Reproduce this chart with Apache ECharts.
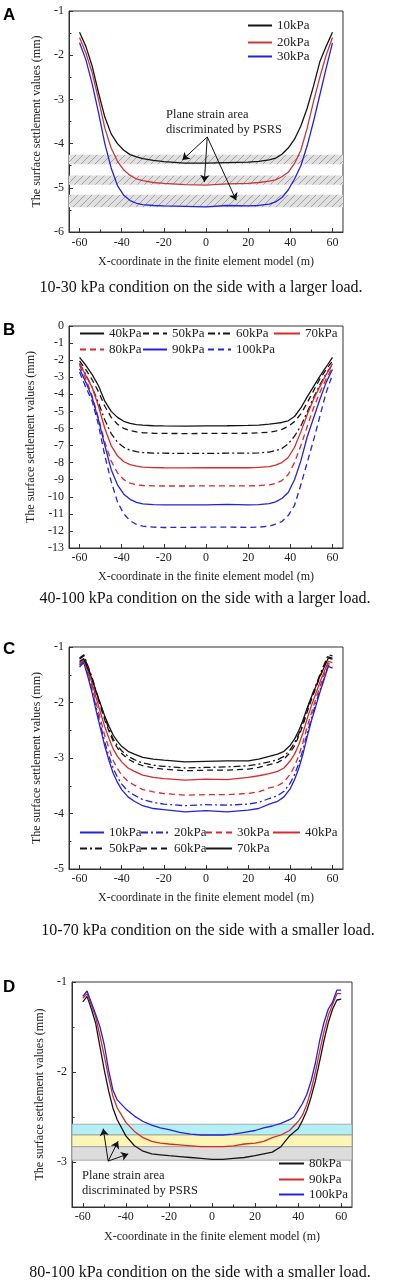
<!DOCTYPE html>
<html><head><meta charset="utf-8">
<script src="https://cdn.jsdelivr.net/npm/echarts@6/dist/echarts.min.js"></script>
<style>html,body{margin:0;padding:0;background:#fff;width:394px;height:1280px;overflow:hidden}
.p{position:absolute;left:0;width:394px}</style></head><body>
<div id="pa" class="p" style="top:0;height:310px"></div>
<div id="pb" class="p" style="top:310px;height:330px"></div>
<div id="pc" class="p" style="top:640px;height:320px"></div>
<div id="pd" class="p" style="top:960px;height:320px"></div>
<script>
// ---------- tick labels ----------
const xTicks = [-60, -40, -20, 0, 20, 40, 60];
const xMinorTicks = [-50, -30, -10, 10, 30, 50];
const yTicksA = [-6, -5, -4, -3, -2, -1];
const yMinorA = [-5.5, -4.5, -3.5, -2.5, -1.5];
const yTicksB = [-13, -12, -11, -10, -9, -8, -7, -6, -5, -4, -3, -2, -1, 0];
const yTicksC = [-5, -4, -3, -2, -1];
const yMinorC = [-4.5, -3.5, -2.5, -1.5];
const yTicksD = [-3, -2, -1];
const yMinorD = [-2.5, -1.5];

// ---------- panel A ----------
const xA = [-60,-57,-54,-51,-48,-45,-42,-39,-36,-33,-30,-25,-20,-10,0,10,20,25,30,33,36,39,42,45,48,51,54,57,60];
const a10 = [-1.48,-1.8,-2.25,-2.85,-3.4,-3.78,-4.0,-4.15,-4.25,-4.3,-4.34,-4.38,-4.41,-4.44,-4.44,-4.43,-4.42,-4.4,-4.37,-4.33,-4.24,-4.1,-3.9,-3.6,-3.2,-2.7,-2.15,-1.8,-1.48];
const a20 = [-1.6,-1.95,-2.4,-3.0,-3.65,-4.1,-4.4,-4.6,-4.72,-4.8,-4.84,-4.88,-4.9,-4.93,-4.94,-4.91,-4.9,-4.88,-4.85,-4.82,-4.75,-4.65,-4.45,-4.15,-3.65,-3.05,-2.5,-2.0,-1.6];
const a30 = [-1.72,-2.1,-2.65,-3.3,-4.0,-4.55,-4.95,-5.17,-5.29,-5.35,-5.38,-5.4,-5.41,-5.42,-5.43,-5.4,-5.41,-5.4,-5.37,-5.32,-5.22,-5.05,-4.8,-4.5,-4.05,-3.5,-2.9,-2.3,-1.72];
const bandsA = [[-4.25, -4.47], [-4.72, -4.93], [-5.16, -5.44]];
const arrowStartA = [0.6, -3.85];
const arrowEndsA = [[-11.2, -4.37], [-0.8, -4.87], [14.3, -5.28]];

// ---------- panel B ----------
const xB = [-60,-57,-54,-51,-48,-45,-42,-39,-36,-33,-30,-25,-20,-10,0,10,20,25,30,33,36,39,42,45,48,51,54,57,60];
const b40 = [-1.84,-2.3,-2.85,-3.5,-4.4,-5.0,-5.35,-5.58,-5.7,-5.77,-5.81,-5.84,-5.85,-5.86,-5.85,-5.84,-5.82,-5.8,-5.75,-5.7,-5.65,-5.55,-5.3,-4.8,-4.15,-3.55,-2.95,-2.4,-1.84];
const b50 = [-2.05,-2.55,-3.15,-3.85,-4.7,-5.35,-5.75,-6.0,-6.13,-6.2,-6.25,-6.28,-6.29,-6.3,-6.29,-6.29,-6.28,-6.26,-6.22,-6.15,-6.05,-5.88,-5.6,-5.15,-4.5,-3.8,-3.1,-2.55,-2.05];
const b60 = [-2.2,-2.85,-3.6,-4.5,-5.5,-6.3,-6.8,-7.1,-7.27,-7.36,-7.41,-7.44,-7.45,-7.46,-7.46,-7.45,-7.45,-7.43,-7.38,-7.3,-7.17,-6.9,-6.45,-5.85,-5.05,-4.2,-3.45,-2.8,-2.25];
const b70 = [-2.2,-2.9,-3.6,-4.7,-6.0,-7.0,-7.6,-7.95,-8.12,-8.2,-8.26,-8.29,-8.3,-8.31,-8.3,-8.3,-8.3,-8.28,-8.23,-8.15,-8.0,-7.7,-7.1,-6.2,-5.2,-4.3,-3.55,-2.85,-2.2];
const b80 = [-2.3,-3.1,-4.1,-5.4,-6.8,-7.9,-8.6,-9.0,-9.2,-9.3,-9.34,-9.36,-9.37,-9.37,-9.36,-9.36,-9.36,-9.35,-9.3,-9.22,-9.05,-8.7,-8.0,-7.0,-5.9,-4.8,-3.9,-3.1,-2.4];
const b90 = [-2.5,-3.3,-4.2,-5.5,-7.0,-8.4,-9.3,-9.85,-10.15,-10.33,-10.42,-10.46,-10.48,-10.48,-10.47,-10.45,-10.47,-10.46,-10.4,-10.3,-10.1,-9.75,-9.0,-7.9,-6.5,-5.4,-4.3,-3.3,-2.55];
const b100 = [-2.7,-3.6,-4.4,-5.8,-7.6,-9.1,-10.3,-11.0,-11.4,-11.62,-11.72,-11.78,-11.8,-11.79,-11.78,-11.78,-11.79,-11.78,-11.72,-11.6,-11.45,-11.1,-10.5,-9.3,-8.0,-6.7,-5.3,-3.9,-2.85];

// ---------- panel C ----------
const xC = [-60,-58,-56,-54,-52,-50,-48,-46,-44,-42,-40,-37,-34,-30,-25,-20,-10,0,10,20,25,30,34,37,40,42,44,46,48,50,52,54,56,58,60];
const c10 = [-1.36,-1.28,-1.54,-1.83,-2.17,-2.48,-2.79,-3.05,-3.28,-3.44,-3.57,-3.70,-3.78,-3.86,-3.91,-3.93,-3.97,-3.95,-3.97,-3.94,-3.91,-3.83,-3.78,-3.70,-3.55,-3.39,-3.19,-2.93,-2.62,-2.33,-2.08,-1.82,-1.59,-1.35,-1.38];
const c20 = [-1.33,-1.25,-1.51,-1.78,-2.11,-2.41,-2.72,-2.97,-3.19,-3.35,-3.47,-3.60,-3.67,-3.75,-3.80,-3.83,-3.86,-3.84,-3.85,-3.83,-3.80,-3.73,-3.68,-3.60,-3.45,-3.30,-3.10,-2.85,-2.56,-2.28,-2.03,-1.78,-1.56,-1.33,-1.36];
const c30 = [-1.30,-1.23,-1.47,-1.72,-2.03,-2.31,-2.60,-2.83,-3.05,-3.19,-3.31,-3.42,-3.49,-3.57,-3.61,-3.64,-3.67,-3.66,-3.66,-3.64,-3.61,-3.54,-3.50,-3.43,-3.29,-3.15,-2.96,-2.72,-2.44,-2.19,-1.95,-1.72,-1.51,-1.30,-1.32];
const c40 = [-1.28,-1.22,-1.43,-1.66,-1.93,-2.19,-2.44,-2.65,-2.84,-2.97,-3.07,-3.18,-3.24,-3.31,-3.35,-3.37,-3.40,-3.38,-3.39,-3.35,-3.32,-3.28,-3.24,-3.18,-3.05,-2.93,-2.76,-2.55,-2.29,-2.06,-1.85,-1.64,-1.45,-1.26,-1.28];
const c50 = [-1.20,-1.14,-1.34,-1.55,-1.81,-2.05,-2.28,-2.48,-2.66,-2.78,-2.87,-2.97,-3.03,-3.09,-3.13,-3.15,-3.18,-3.17,-3.16,-3.14,-3.11,-3.07,-3.03,-2.97,-2.85,-2.73,-2.57,-2.37,-2.12,-1.90,-1.70,-1.50,-1.32,-1.14,-1.16];
const c60 = [-1.22,-1.16,-1.36,-1.58,-1.84,-2.08,-2.32,-2.52,-2.70,-2.82,-2.92,-3.02,-3.08,-3.14,-3.18,-3.20,-3.23,-3.22,-3.22,-3.20,-3.17,-3.12,-3.08,-3.02,-2.90,-2.78,-2.61,-2.41,-2.17,-1.95,-1.75,-1.54,-1.36,-1.18,-1.20];
const c70 = [-1.26,-1.21,-1.39,-1.58,-1.82,-2.03,-2.25,-2.43,-2.59,-2.70,-2.79,-2.88,-2.93,-2.99,-3.02,-3.04,-3.07,-3.06,-3.05,-3.05,-3.02,-2.97,-2.93,-2.88,-2.77,-2.66,-2.51,-2.32,-2.10,-1.90,-1.72,-1.53,-1.37,-1.20,-1.22];

// ---------- panel D ----------
const xD = [-60,-58,-56,-54,-52,-50,-48,-46,-44,-42,-40,-36,-32,-28,-24,-20,-15,-10,-5,0,5,10,15,20,24,28,32,36,38,40,42,44,46,48,50,52,54,56,58,60];
const d80 = [-1.22,-1.16,-1.3,-1.46,-1.72,-1.98,-2.21,-2.4,-2.53,-2.62,-2.71,-2.82,-2.88,-2.91,-2.92,-2.93,-2.94,-2.95,-2.96,-2.97,-2.97,-2.96,-2.95,-2.93,-2.91,-2.89,-2.83,-2.71,-2.67,-2.63,-2.54,-2.43,-2.28,-2.1,-1.88,-1.65,-1.45,-1.3,-1.2,-1.19];
const d90 = [-1.18,-1.13,-1.26,-1.39,-1.6,-1.82,-2.06,-2.27,-2.4,-2.48,-2.56,-2.66,-2.73,-2.77,-2.79,-2.8,-2.81,-2.82,-2.83,-2.83,-2.83,-2.82,-2.8,-2.79,-2.77,-2.73,-2.7,-2.65,-2.6,-2.55,-2.48,-2.36,-2.2,-2.0,-1.77,-1.55,-1.37,-1.25,-1.13,-1.13];
const d100 = [-1.16,-1.1,-1.23,-1.36,-1.5,-1.7,-1.98,-2.2,-2.31,-2.36,-2.41,-2.49,-2.55,-2.59,-2.62,-2.64,-2.67,-2.69,-2.7,-2.7,-2.7,-2.69,-2.67,-2.65,-2.62,-2.6,-2.57,-2.53,-2.5,-2.43,-2.35,-2.25,-2.1,-1.9,-1.65,-1.45,-1.3,-1.22,-1.09,-1.09];
const bandsD = [[-2.58, -2.70], [-2.70, -2.83], [-2.83, -2.98]];
const arrowStartD = [-48.2, -2.99];
const arrowEndsD = [[-50.5, -2.63], [-43.6, -2.77], [-38.9, -2.91]];

// ---------- styling helpers ----------
const SERIF = '"Liberation Serif", "Times New Roman", serif';
const SANS = '"Liberation Sans", Arial, sans-serif';
const BLACK = '#151515', RED = '#d82a2a', BLUE = '#2323d8';
const DASH = [6, 4], DASHDOT = [7, 3, 2, 3];

function hatch() {
  const c = document.createElement('canvas'); c.width = 7; c.height = 7;
  const g = c.getContext('2d');
  g.fillStyle = '#e0e0e0'; g.fillRect(0, 0, 7, 7);
  g.strokeStyle = '#a2a2a2'; g.lineWidth = 1;
  g.beginPath(); g.moveTo(0, 7); g.lineTo(7, 0); g.moveTo(-1, 1); g.lineTo(1, -1); g.moveTo(6, 8); g.lineTo(8, 6); g.stroke();
  return c;
}
function pts(xs, ys) { return xs.map((x, i) => [x, ys[i]]); }

function build(id, cfg) {
  const chart = echarts.init(document.getElementById(id), null, { renderer: 'canvas' });
  const axCol = '#333';
  const lbl = { fontFamily: SERIF, fontSize: 12, color: '#222' };
  const xAxis = [
    { type: 'value', gridIndex: 0, min: -65, max: 65, position: 'bottom',
      axisLine: { show: true, onZero: false, lineStyle: { color: axCol } },
      axisTick: { show: true, inside: true, length: 4, customValues: xTicks, lineStyle: { color: axCol } },
      axisLabel: Object.assign({ customValues: xTicks, margin: cfg.xLabelMargin }, lbl),
      splitLine: { show: false },
      name: 'X-coordinate in the finite element model (m)', nameLocation: 'middle', nameGap: cfg.xNameGap,
      nameTextStyle: { fontFamily: SERIF, fontSize: 12, color: '#222' } },
    { type: 'value', gridIndex: 0, min: -65, max: 65, position: 'bottom', offset: 0,
      axisLine: { show: false, onZero: false }, axisLabel: { show: false }, splitLine: { show: false },
      axisTick: { show: true, inside: true, length: 2.5, customValues: xMinorTicks, lineStyle: { color: axCol } } }
  ];
  const yAxis = [
    { type: 'value', gridIndex: 0, min: cfg.yMin, max: cfg.yMax, position: 'left',
      axisLine: { show: true, onZero: false, lineStyle: { color: axCol } },
      axisTick: { show: true, inside: true, length: 4, customValues: cfg.yTicks, lineStyle: { color: axCol } },
      axisLabel: Object.assign({ customValues: cfg.yTicks, margin: 5 }, lbl),
      splitLine: { show: false },
      name: 'The surface settlement values (mm)', nameLocation: 'middle', nameGap: cfg.yNameGap,
      nameTextStyle: { fontFamily: SERIF, fontSize: 12, color: '#222' } },
    { type: 'value', gridIndex: 0, min: cfg.yMin, max: cfg.yMax, position: 'left', offset: 0,
      axisLine: { show: false, onZero: false }, axisLabel: { show: false }, splitLine: { show: false },
      axisTick: { show: !!cfg.yMinor, inside: true, length: 2.5, customValues: cfg.yMinor || [], lineStyle: { color: axCol } } }
  ];
  const series = [];
  const deco = { type: 'line', name: '_deco', data: [], xAxisIndex: 0, yAxisIndex: 0, z: 1, silent: true, symbol: 'none' };
  if (cfg.bands) {
    deco.markArea = { silent: true, data: cfg.bands.map((b, i) => [
      { yAxis: b[0], itemStyle: { color: cfg.bandColors[i], borderColor: cfg.bandBorder || 'transparent', borderWidth: cfg.bandBorder ? 0.8 : 0 } },
      { yAxis: b[1] }]) };
  }
  series.push(deco);
  cfg.lines.forEach(l => {
    series.push({ type: 'line', name: l.name, data: pts(l.xs, l.ys), xAxisIndex: 0, yAxisIndex: 0, z: 3,
      symbol: 'none', showSymbol: false, smooth: false, silent: true,
      lineStyle: { color: l.color, width: 1.3, type: l.type || 'solid' }, itemStyle: { color: l.color } });
  });
  if (cfg.arrows) {
    series.push({ type: 'line', name: '_arrows', data: [], z: 5, silent: true, symbol: 'none',
      markLine: { silent: true, symbol: ['none', 'arrow'], symbolSize: 7, label: { show: false },
        lineStyle: { color: '#111', width: 1, type: 'solid' }, emphasis: { disabled: true },
        data: cfg.arrows.ends.map(e => [{ coord: cfg.arrows.start }, { coord: e }]) } });
  }
  const legend = cfg.legends.map(g => ({
    data: [g.name], left: g.left, top: g.top, orient: 'horizontal', padding: 0,
    itemWidth: g.w, itemHeight: 12, selectedMode: false,
    itemStyle: { opacity: 0, borderWidth: 0 },
    textStyle: { fontFamily: SERIF, fontSize: 13, color: '#222' }
  }));
  const graphic = [
    { type: 'text', x: cfg.letter[1], y: cfg.letter[2], style: { text: cfg.letter[0], font: 'bold 17px ' + SANS, fill: '#000', align: 'left', verticalAlign: 'middle', textAlign: 'left', textVerticalAlign: 'middle' } },
    { type: 'text', x: cfg.caption[1], y: cfg.caption[2], style: { text: cfg.caption[0], font: '16px ' + SERIF, fill: '#111', align: 'center', verticalAlign: 'middle', textAlign: 'center', textVerticalAlign: 'middle' } }
  ];
  (cfg.notes || []).forEach(n => graphic.push({ type: 'text', x: n[1], y: n[2], z: 10,
    style: { text: n[0], font: '12.5px ' + SERIF, fill: '#222', align: 'left', verticalAlign: 'middle', textAlign: 'left', textVerticalAlign: 'middle' } }));
  chart.setOption({
    animation: false,
    backgroundColor: '#fff',
    grid: { left: cfg.grid[0], top: cfg.grid[1], width: cfg.grid[2], height: cfg.grid[3], show: true, borderColor: axCol, borderWidth: 1, backgroundColor: 'transparent' },
    xAxis, yAxis, legend, series, graphic
  });
}

const hatchFill = { image: hatch(), repeat: 'repeat' };

build('pa', {
  grid: [69, 11, 274, 221], yMin: -6, yMax: -1, yTicks: yTicksA, yMinor: yMinorA,
  xLabelMargin: 5, xNameGap: 24, yNameGap: 19,
  lines: [
    { name: '10kPa', xs: xA, ys: a10, color: BLACK },
    { name: '20kPa', xs: xA, ys: a20, color: '#c83a3a' },
    { name: '30kPa', xs: xA, ys: a30, color: BLUE }
  ],
  bands: bandsA, bandColors: [hatchFill, hatchFill, hatchFill],
  arrows: { start: arrowStartA, ends: arrowEndsA },
  legends: [
    { name: '10kPa', left: 247, top: 19, w: 24 },
    { name: '20kPa', left: 247, top: 36, w: 24 },
    { name: '30kPa', left: 247, top: 50, w: 24 }
  ],
  notes: [['Plane strain area', 166, 115], ['discriminated by PSRS', 166, 130]],
  letter: ['A', 3, 15], caption: ['10-30 kPa condition on the side with a larger load.', 201, 288]
});

build('pb', {
  grid: [69, 16, 274, 222], yMin: -13, yMax: 0, yTicks: yTicksB, yMinor: null,
  xLabelMargin: 4, xNameGap: 23, yNameGap: 21,
  lines: [
    { name: '40kPa', xs: xB, ys: b40, color: BLACK },
    { name: '50kPa', xs: xB, ys: b50, color: BLACK, type: DASH },
    { name: '60kPa', xs: xB, ys: b60, color: BLACK, type: DASHDOT },
    { name: '70kPa', xs: xB, ys: b70, color: RED },
    { name: '80kPa', xs: xB, ys: b80, color: RED, type: DASH },
    { name: '90kPa', xs: xB, ys: b90, color: BLUE },
    { name: '100kPa', xs: xB, ys: b100, color: BLUE, type: DASH }
  ],
  legends: [
    { name: '40kPa', left: 79, top: 17, w: 24 },
    { name: '50kPa', left: 142, top: 17, w: 24 },
    { name: '60kPa', left: 207, top: 17, w: 23 },
    { name: '70kPa', left: 273, top: 17, w: 26 },
    { name: '80kPa', left: 79, top: 33, w: 24 },
    { name: '90kPa', left: 142, top: 33, w: 24 },
    { name: '100kPa', left: 207, top: 33, w: 23 }
  ],
  letter: ['B', 3, 20], caption: ['40-100 kPa condition on the side with a larger load.', 205, 289]
});

build('pc', {
  grid: [69, 7, 274, 222], yMin: -5, yMax: -1, yTicks: yTicksC, yMinor: yMinorC,
  xLabelMargin: 4, xNameGap: 23, yNameGap: 19,
  lines: [
    { name: '10kPa', xs: xC, ys: c10, color: BLUE },
    { name: '20kPa', xs: xC, ys: c20, color: BLUE, type: DASHDOT },
    { name: '30kPa', xs: xC, ys: c30, color: RED, type: DASH },
    { name: '40kPa', xs: xC, ys: c40, color: RED },
    { name: '50kPa', xs: xC, ys: c50, color: BLACK, type: DASHDOT },
    { name: '60kPa', xs: xC, ys: c60, color: BLACK, type: DASH },
    { name: '70kPa', xs: xC, ys: c70, color: BLACK }
  ],
  legends: [
    { name: '10kPa', left: 79, top: 186, w: 24 },
    { name: '20kPa', left: 140, top: 186, w: 28 },
    { name: '30kPa', left: 205, top: 186, w: 26 },
    { name: '40kPa', left: 272, top: 186, w: 27 },
    { name: '50kPa', left: 79, top: 202, w: 24 },
    { name: '60kPa', left: 140, top: 202, w: 28 },
    { name: '70kPa', left: 205, top: 202, w: 26 }
  ],
  letter: ['C', 3, 9], caption: ['10-70 kPa condition on the side with a smaller load.', 208, 291]
});

build('pd', {
  grid: [72, 22, 280, 225], yMin: -3.5, yMax: -1, yTicks: yTicksD, yMinor: yMinorD,
  xLabelMargin: 4, xNameGap: 24, yNameGap: 18,
  lines: [
    { name: '80kPa', xs: xD, ys: d80, color: BLACK },
    { name: '90kPa', xs: xD, ys: d90, color: RED },
    { name: '100kPa', xs: xD, ys: d100, color: BLUE }
  ],
  bands: bandsD, bandColors: ['#b4eff6', '#fbf5b6', '#dcdcdc'], bandBorder: '#9a9a9a',
  arrows: { start: arrowStartD, ends: arrowEndsD },
  legends: [
    { name: '80kPa', left: 278, top: 197, w: 25 },
    { name: '90kPa', left: 278, top: 213, w: 25 },
    { name: '100kPa', left: 278, top: 228, w: 25 }
  ],
  notes: [['Plane strain area', 82, 216], ['discriminated by PSRS', 82, 231]],
  letter: ['D', 3, 27], caption: ['80-100 kPa condition on the side with a smaller load.', 200, 313]
});
</script>
</body></html>
